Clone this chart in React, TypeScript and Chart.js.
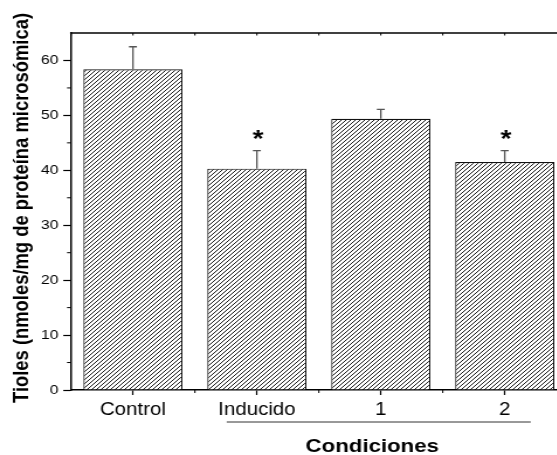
import React, { useEffect, useRef } from 'react';
import { Chart, registerables } from 'chart.js';

Chart.register(...registerables);

const categories = ['Control', 'Inducido', '1', '2'];
const values = [58.4, 40.3, 49.4, 41.5];
const errors = [4.1, 3.3, 1.7, 2.1];
const marks = ['', '*', '', '*'];
const yTicks = [0, 10, 20, 30, 40, 50, 60];
const yMinorTicks = [5, 15, 25, 35, 45, 55];
const yTitle = 'Tioles (nmoles/mg de proteína microsómica)';
const xTitle = 'Condiciones';

const SX = 1.17;
const W = 490;
const H = 455;
const FONT = '"Liberation Sans", Arial, sans-serif';

function makePattern(ctx: CanvasRenderingContext2D): CanvasPattern | string {
  const c = document.createElement('canvas');
  const s = 4;
  c.width = s;
  c.height = s;
  const p = c.getContext('2d');
  if (!p) return '#777';
  p.fillStyle = '#fff';
  p.fillRect(0, 0, s, s);
  p.strokeStyle = '#1a1a1a';
  p.lineWidth = 1.0;
  p.beginPath();
  p.moveTo(0, s);
  p.lineTo(s, 0);
  p.moveTo(-1, 1);
  p.lineTo(1, -1);
  p.moveTo(s - 1, s + 1);
  p.lineTo(s + 1, s - 1);
  p.stroke();
  return ctx.createPattern(c, 'repeat') || '#777';
}

const extrasPlugin = {
  id: 'extras',
  afterDatasetsDraw(chart: any) {
    const ctx: CanvasRenderingContext2D = chart.ctx;
    const y = chart.scales.y;
    const meta = chart.getDatasetMeta(0);
    ctx.save();
    meta.data.forEach((bar: any, i: number) => {
      const x = bar.x;
      const y0 = y.getPixelForValue(values[i]);
      const y1 = y.getPixelForValue(values[i] + errors[i]);
      ctx.strokeStyle = '#555';
      ctx.lineWidth = 1.3;
      ctx.beginPath();
      ctx.moveTo(x, y0);
      ctx.lineTo(x, y1);
      ctx.moveTo(x - 3.4, y1);
      ctx.lineTo(x + 3.4, y1);
      ctx.stroke();
      if (marks[i]) {
        ctx.fillStyle = '#000';
        ctx.font = `bold 24px ${FONT}`;
        ctx.textAlign = 'center';
        ctx.textBaseline = 'alphabetic';
        ctx.fillText(marks[i], x + 1, y1 - 3.5);
      }
    });
    ctx.restore();
  },
  afterDraw(chart: any) {
    const ctx: CanvasRenderingContext2D = chart.ctx;
    const { left, right, top, bottom } = chart.chartArea;
    const xs = chart.scales.x;
    const ys = chart.scales.y;
    ctx.save();
    ctx.strokeStyle = '#000';
    ctx.lineWidth = 1.5;
    ctx.beginPath();
    ctx.moveTo(left - 0.75, top);
    ctx.lineTo(right, top);
    ctx.stroke();
    ctx.lineWidth = 1;
    const step = (right - left) / categories.length;
    ctx.beginPath();
    for (let i = 0; i <= categories.length * 2; i++) {
      const x = left + (i * step) / 2;
      ctx.moveTo(x, top);
      ctx.lineTo(x, top + 2.5);
    }
    for (let i = 1; i < categories.length; i++) {
      const x = left + i * step;
      ctx.moveTo(x, bottom);
      ctx.lineTo(x, bottom + 3);
    }
    yMinorTicks.forEach((v) => {
      const py = ys.getPixelForValue(v);
      ctx.moveTo(left, py);
      ctx.lineTo(left - 3.4, py);
    });
    ctx.stroke();
    ctx.strokeStyle = '#333';
    ctx.lineWidth = 1;
    const x1 = xs.getPixelForValue(1) - step * 0.243;
    const x2 = xs.getPixelForValue(3) + step * 0.21;
    ctx.beginPath();
    ctx.moveTo(x1, 422);
    ctx.lineTo(x2, 422);
    ctx.stroke();
    ctx.fillStyle = '#000';
    ctx.font = `bold 19px ${FONT}`;
    ctx.textAlign = 'center';
    ctx.textBaseline = 'alphabetic';
    ctx.fillText(xTitle, (xs.getPixelForValue(1) + xs.getPixelForValue(3)) / 2 - 7.3, 452);
    ctx.translate(19, 208);
    ctx.rotate(-Math.PI / 2);
    ctx.font = `bold 18.4px ${FONT}`;
    ctx.textBaseline = 'middle';
    ctx.fillText(yTitle, 0, 0);
    ctx.restore();
  },
};

export default function App() {
  const ref = useRef<HTMLCanvasElement | null>(null);
  useEffect(() => {
    const canvas = ref.current;
    if (!canvas) return;
    const ctx = canvas.getContext('2d');
    if (!ctx) return;
    const pattern = makePattern(ctx);
    const chart = new Chart(canvas, {
      type: 'bar',
      data: {
        labels: categories,
        datasets: [
          {
            data: values,
            backgroundColor: pattern as any,
            borderColor: '#111',
            borderWidth: 1.2,
            barPercentage: 0.8,
            categoryPercentage: 1.0,
          },
        ],
      },
      options: {
        responsive: false,
        animation: false,
        devicePixelRatio: 1,
        layout: { padding: { top: 33, right: W - 567 / SX, left: 0, bottom: 0 } },
        plugins: { legend: { display: false }, tooltip: { enabled: false }, title: { display: false } },
        scales: {
          x: {
            grid: { offset: false, drawOnChartArea: false, drawTicks: true, tickLength: 5, tickColor: '#000', tickWidth: 1.2 },
            border: { color: '#000', width: 1.5 },
            ticks: { font: { size: 17.5, family: FONT }, color: '#000', padding: 5, maxRotation: 0, autoSkip: false },
            afterFit: (s: any) => {
              s.height = H - 390;
            },
          },
          y: {
            min: 0,
            max: 65,
            ticks: { stepSize: 10, font: { size: 13.5, family: FONT }, color: '#000', padding: 4 },
            afterBuildTicks: (s: any) => {
              s.ticks = yTicks.map((v) => ({ value: v }));
            },
            afterFit: (s: any) => {
              s.width = 71 / SX;
            },
            grid: { drawOnChartArea: false, drawTicks: true, tickLength: 6.6, tickColor: '#000', tickWidth: 1.2 },
            border: { color: '#000', width: 1.5 },
          },
        },
      },
      plugins: [extrasPlugin],
    });
    return () => chart.destroy();
  }, []);
  return (
    <div style={{ position: 'fixed', left: 0, top: 0, width: 557, height: 455, overflow: 'hidden', background: '#fff' }}>
      <canvas ref={ref} width={W} height={H} style={{ width: `${W * SX}px`, height: `${H}px`, display: 'block' }} />
    </div>
  );
}
